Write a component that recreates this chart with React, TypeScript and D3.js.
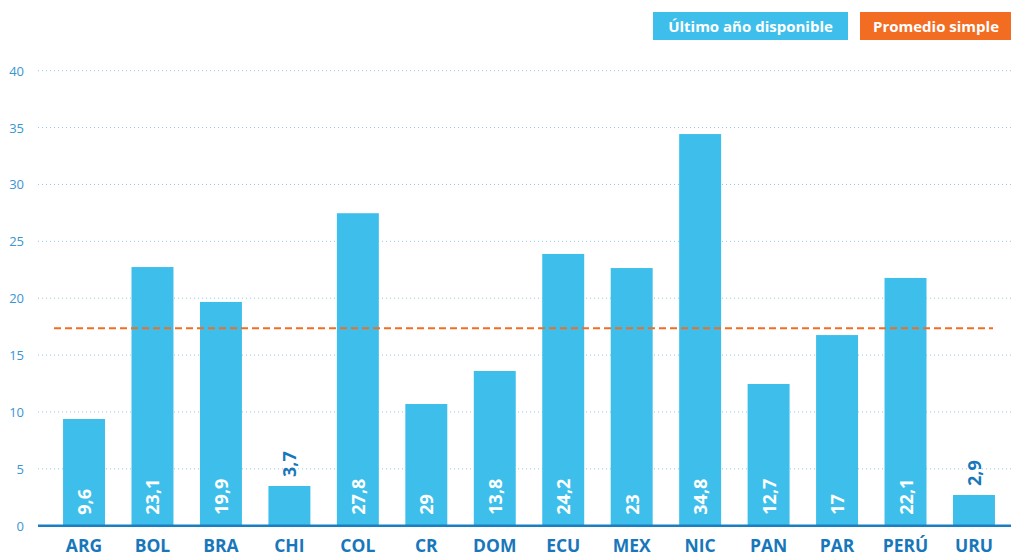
import React from "react";
import * as d3 from "d3";

const categories = ["ARG", "BOL", "BRA", "CHI", "COL", "CR", "DOM", "ECU", "MEX", "NIC", "PAN", "PAR", "PERÚ", "URU"];
const values = [9.38, 22.74, 19.67, 3.49, 27.47, 10.7, 13.6, 23.89, 22.65, 34.43, 12.46, 16.76, 21.78, 2.7];
const valueLabels = ["9,6", "23,1", "19,9", "3,7", "27,8", "29", "13,8", "24,2", "23", "34,8", "12,7", "17", "22,1", "2,9"];
const average = 17.35;
const yTicks = [0, 5, 10, 15, 20, 25, 30, 35, 40];
const legendItems = ["Último año disponible", "Promedio simple"];

const W = 1011;
const H = 556;
const FONT = "'Open Sans', 'Noto Sans', sans-serif";
const BAR = "#3ebfeb";
const ORANGE = "#f26c22";
const AXIS = "#1a7fc2";
const DARK = "#1877ba";
const TICK = "#3a96d2";
const GRID = "#8fc8e6";

export default function App() {
  const y = d3.scaleLinear().domain([0, 40]).range([525.7, 70.7]);
  const x = d3.scaleBand<string>().domain(categories).range([49.8, 1008.2]).paddingInner(0.387).paddingOuter(0.1935);
  const bw = x.bandwidth();
  const y0 = y(0);

  return (
    <svg width={W} height={H} style={{ position: "absolute", left: 0, top: 0 }} fontFamily={FONT}>
      <rect width={W} height={H} fill="#fff" />
      {/* grid */}
      {yTicks.filter((t) => t > 0).map((t) => (
        <line key={t} x1={38} x2={W} y1={y(t)} y2={y(t)} stroke={GRID} strokeWidth={1} strokeDasharray="1 3" />
      ))}
      {/* y tick labels */}
      {yTicks.map((t) => (
        <text key={t} x={24} y={y(t)} textAnchor="end" dominantBaseline="central" fontSize={13} fill={TICK}>
          {t}
        </text>
      ))}
      {/* bars */}
      {categories.map((c, i) => (
        <rect key={c} x={x(c)} y={y(values[i])} width={bw} height={y0 - y(values[i])} fill={BAR} />
      ))}
      {/* average line */}
      <line x1={54} x2={993} y1={y(average)} y2={y(average)} stroke={ORANGE} strokeWidth={2} strokeDasharray="7 4" />
      {/* value labels */}
      {categories.map((c, i) => {
        const cx = (x(c) as number) + bw / 2;
        const inside = values[i] >= 5;
        const ty = inside ? y0 - 11 : y(values[i]) - 9;
        return (
          <text
            key={c}
            transform={`translate(${cx},${ty}) rotate(-90)`}
            dominantBaseline="central"
            textAnchor="start"
            fontSize={18}
            fontWeight={700}
            fill={inside ? "#ffffff" : DARK}
          >
            {valueLabels[i]}
          </text>
        );
      })}
      {/* axis line */}
      <line x1={38} x2={W} y1={y0} y2={y0} stroke={AXIS} strokeWidth={2.5} />
      {/* category labels */}
      {categories.map((c) => (
        <text key={c} x={(x(c) as number) + bw / 2} y={552} textAnchor="middle" fontSize={17.5} fontWeight={700} fill={DARK}>
          {c}
        </text>
      ))}
      {/* legend */}
      <rect x={653} y={12} width={195} height={28} fill={BAR} />
      <text x={750.5} y={26} textAnchor="middle" dominantBaseline="central" fontSize={15} fontWeight={700} fill="#fff">
        {legendItems[0]}
      </text>
      <rect x={860} y={12} width={151} height={28} fill={ORANGE} />
      <text x={936} y={26} textAnchor="middle" dominantBaseline="central" fontSize={15} fontWeight={700} fill="#fff">
        {legendItems[1]}
      </text>
    </svg>
  );
}
